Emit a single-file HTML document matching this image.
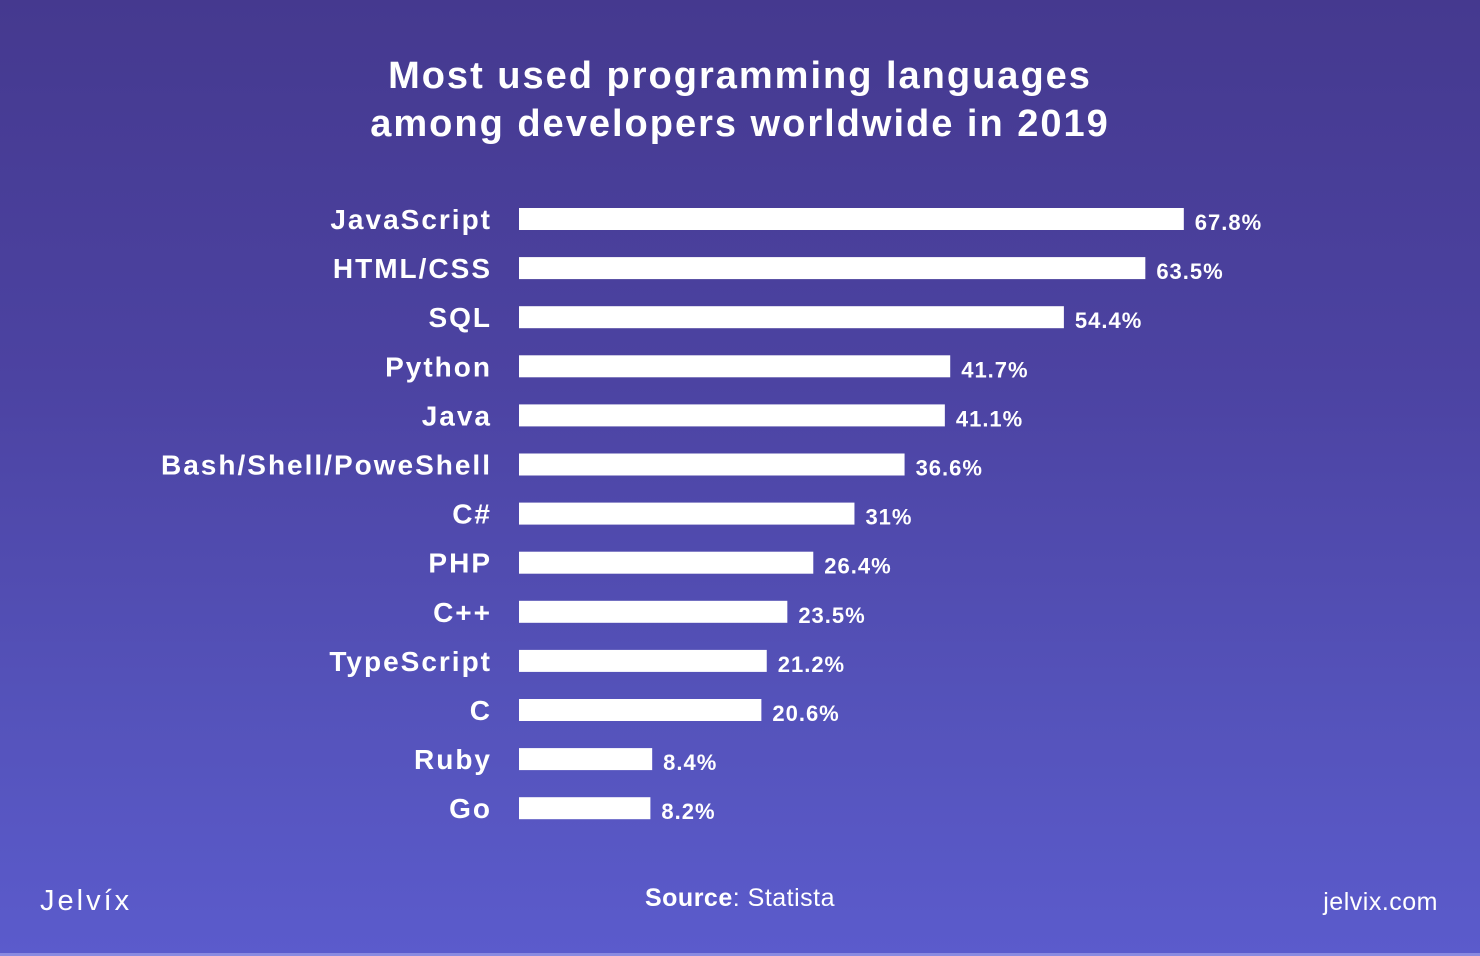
<!DOCTYPE html>
<html><head><meta charset="utf-8"><style>
html,body{margin:0;padding:0}
body{width:1480px;height:956px;overflow:hidden;background:linear-gradient(180deg,#45398f 0%,#4c43a2 40%,#5553bb 75%,#5b5bcc 100%);font-family:"Liberation Sans",sans-serif;color:#fff;position:relative}
svg{position:absolute;left:0;top:0}
</style></head><body>
<svg id="chart" width="1480" height="956" viewBox="0 0 1480 956">
<text x="740" y="88" text-anchor="middle" font-size="38" font-weight="bold" fill="#fff" letter-spacing="2">Most used programming languages</text>
<text x="740" y="136" text-anchor="middle" font-size="38" font-weight="bold" fill="#fff" letter-spacing="2">among developers worldwide in 2019</text>
<g id="bars"></g>
<text x="40" y="910" font-size="29" fill="#fff" letter-spacing="3">Jelvíx</text>
<text x="740" y="906" text-anchor="middle" font-size="25" fill="#fff" letter-spacing="0.5"><tspan font-weight="bold">Source</tspan>: Statista</text>
<text x="1438" y="910" text-anchor="end" font-size="25" fill="#fff" letter-spacing="0.5">jelvix.com</text>
<rect x="0" y="953" width="1480" height="3" fill="#8a8ae0"/>
</svg>
<script>
const categories=["JavaScript","HTML/CSS","SQL","Python","Java","Bash/Shell/PoweShell","C#","PHP","C++","TypeScript","C","Ruby","Go"];
const values=[67.8,63.5,54.4,41.7,41.1,36.6,31,26.4,23.5,21.2,20.6,8.4,8.2];
const valueLabels=["67.8%","63.5%","54.4%","41.7%","41.1%","36.6%","31%","26.4%","23.5%","21.2%","20.6%","8.4%","8.2%"];
const NS="http://www.w3.org/2000/svg";
const x0=519;
function xScale(v){return 58+v*8.95;}
function yScale(i){return 219+i*49.1;}
const g=document.getElementById('bars');
categories.forEach((c,i)=>{
  const cy=yScale(i), w=xScale(values[i]);
  const lab=document.createElementNS(NS,'text');
  
  
  lab.setAttribute('x',492);lab.setAttribute('y',cy+10);
  lab.setAttribute('text-anchor','end');lab.setAttribute('font-size','28');
  lab.setAttribute('font-weight','bold');lab.setAttribute('fill','#fff');lab.setAttribute('letter-spacing','2');
  lab.textContent=c;g.appendChild(lab);
  const r=document.createElementNS(NS,'rect');
  
  
  r.setAttribute('x',x0);r.setAttribute('y',cy-11);r.setAttribute('width',w);r.setAttribute('height',22);r.setAttribute('fill','#fff');
  g.appendChild(r);
  const vl=document.createElementNS(NS,'text');
  
  
  vl.setAttribute('x',x0+w+11);vl.setAttribute('y',cy+11);
  vl.setAttribute('font-size','22');vl.setAttribute('font-weight','bold');vl.setAttribute('fill','#fff');vl.setAttribute('letter-spacing','1');
  vl.textContent=valueLabels[i];g.appendChild(vl);
});
</script>
</body></html>
